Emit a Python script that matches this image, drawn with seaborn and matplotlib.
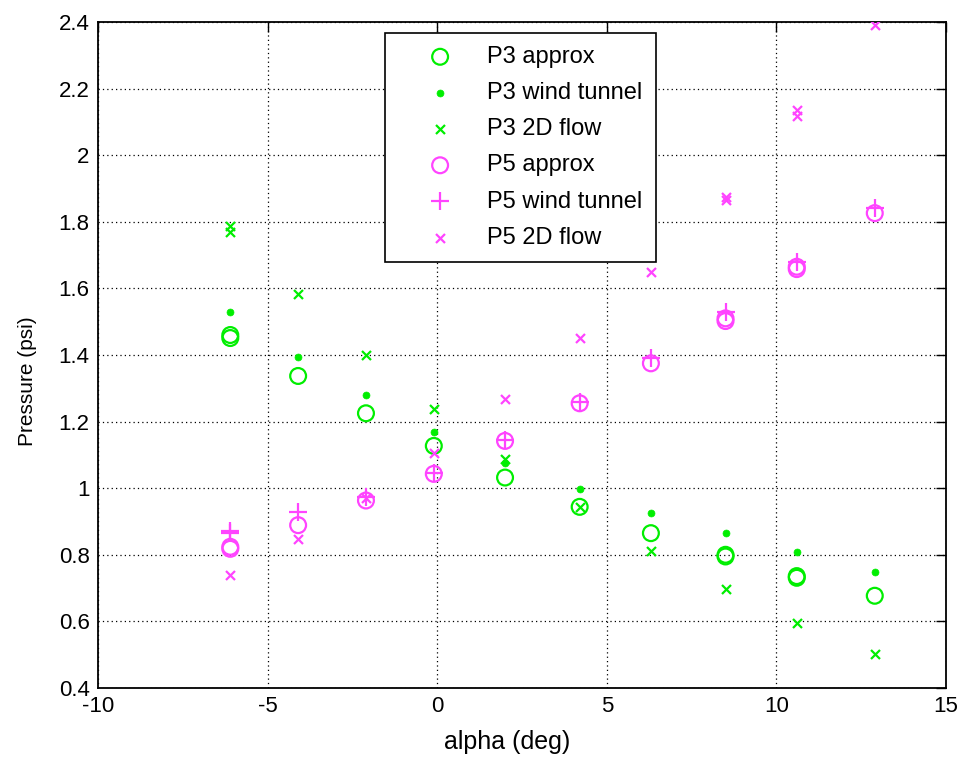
import matplotlib
matplotlib.use("Agg")
import matplotlib.pyplot as plt
import seaborn as sns
import numpy as np

# ---- data ----
p3_approx_alpha = [-6.1, -6.1, -4.1, -2.1, -0.1, 2.0, 4.2, 6.3, 8.5, 8.5, 10.6, 10.6, 12.9]
p3_approx_val = [1.460, 1.451, 1.337, 1.225, 1.127, 1.032, 0.944, 0.865, 0.800, 0.795, 0.736, 0.731, 0.677]

p3_wt_alpha = [-6.1, -4.1, -2.1, -0.1, 2.0, 4.2, 6.3, 8.5, 10.6, 12.9]
p3_wt_val = [1.529, 1.395, 1.280, 1.170, 1.075, 0.997, 0.925, 0.866, 0.809, 0.747]

p3_2d_alpha = [-6.1, -6.1, -4.1, -2.1, -0.1, 2.0, 4.2, 6.3, 8.5, 10.6, 12.9]
p3_2d_val = [1.787, 1.769, 1.583, 1.400, 1.237, 1.087, 0.944, 0.812, 0.696, 0.596, 0.502]

p5_approx_alpha = [-6.1, -6.1, -4.1, -2.1, -0.1, 2.0, 4.2, 6.3, 8.5, 8.5, 10.6, 10.6, 12.9]
p5_approx_val = [0.824, 0.818, 0.889, 0.963, 1.043, 1.142, 1.255, 1.375, 1.510, 1.502, 1.665, 1.658, 1.826]

p5_wt_alpha = [-6.1, -6.1, -4.1, -2.1, -0.1, 2.0, 4.2, 6.3, 8.5, 10.6, 12.9]
p5_wt_val = [0.871, 0.864, 0.928, 0.975, 1.045, 1.145, 1.260, 1.392, 1.528, 1.680, 1.842]

p5_2d_alpha = [-6.1, -4.1, -2.1, -0.1, 2.0, 4.2, 6.3, 8.5, 8.5, 10.6, 10.6, 12.9]
p5_2d_val = [0.739, 0.847, 0.972, 1.107, 1.267, 1.450, 1.649, 1.875, 1.865, 2.136, 2.118, 2.391]

x_ticks = [-10, -5, 0, 5, 10, 15]
y_ticks = [0.4, 0.6, 0.8, 1.0, 1.2, 1.4, 1.6, 1.8, 2.0, 2.2, 2.4]
y_tick_labels = ["0.4", "0.6", "0.8", "1", "1.2", "1.4", "1.6", "1.8", "2", "2.2", "2.4"]

GREEN = "#00ee00"
MAGENTA = "#ff44ff"

sns.set_style("white")
plt.rcParams["font.family"] = ["Liberation Sans", "DejaVu Sans"]
plt.rcParams["text.color"] = "black"
plt.rcParams["axes.labelcolor"] = "black"

fig = plt.figure(figsize=(9.63, 7.61), dpi=100)
ax = fig.add_axes([98 / 963, 1 - 688 / 761, 848 / 963, 666 / 761])

sns.scatterplot(x=p3_approx_alpha, y=p3_approx_val, ax=ax, marker="o", s=130,
                color=GREEN, facecolor="none", edgecolor=GREEN, linewidth=1.6,
                label="P3 approx", zorder=3)
sns.scatterplot(x=p3_wt_alpha, y=p3_wt_val, ax=ax, marker="o", s=25,
                color=GREEN, edgecolor=GREEN, linewidth=0.5,
                label="P3 wind tunnel", zorder=3)
sns.scatterplot(x=p3_2d_alpha, y=p3_2d_val, ax=ax, marker="x", s=42,
                color=GREEN, linewidth=1.6, label="P3 2D flow", zorder=3)
sns.scatterplot(x=p5_approx_alpha, y=p5_approx_val, ax=ax, marker="o", s=130,
                color=MAGENTA, facecolor="none", edgecolor=MAGENTA, linewidth=1.6,
                label="P5 approx", zorder=3)
sns.scatterplot(x=p5_wt_alpha, y=p5_wt_val, ax=ax, marker="+", s=150,
                color=MAGENTA, linewidth=1.6, label="P5 wind tunnel", zorder=3)
sns.scatterplot(x=p5_2d_alpha, y=p5_2d_val, ax=ax, marker="x", s=42,
                color=MAGENTA, linewidth=1.6, label="P5 2D flow", zorder=3)

ax.set_xlim(-10, 15)
ax.set_ylim(0.4, 2.4)
ax.set_xticks(x_ticks)
ax.set_xticklabels([str(t) for t in x_ticks])
ax.set_yticks(y_ticks)
ax.set_yticklabels(y_tick_labels)

ax.grid(True, color="black", linestyle=(0, (1, 2.5)), linewidth=0.9)
ax.set_axisbelow(True)
for sp in ax.spines.values():
    sp.set_visible(True)
    sp.set_color("black")
    sp.set_linewidth(1.3)

ax.tick_params(axis="both", direction="in", length=7, width=1.0, labelsize=16,
               top=True, right=True, colors="black", labelcolor="black", pad=6)

ax.set_xlabel("alpha (deg)", fontsize=18, color="black")
ax.xaxis.set_label_coords(0.482, -0.063, transform=ax.transAxes)
ax.xaxis.label.set_va("top")
ax.set_ylabel("Pressure (psi)", fontsize=15, color="black")
ax.yaxis.set_label_coords(-0.072, 0.461, transform=ax.transAxes)

leg = ax.legend(loc="upper left", bbox_to_anchor=(0.338, 0.9835), borderaxespad=0,
                fontsize=17, frameon=True, fancybox=False, edgecolor="black",
                framealpha=1, handlelength=3.6, handletextpad=0.2,
                labelspacing=0.6, borderpad=0.55, labelcolor="black")
leg.get_frame().set_linewidth(1.2)

fig.savefig("out.png", dpi=100)
